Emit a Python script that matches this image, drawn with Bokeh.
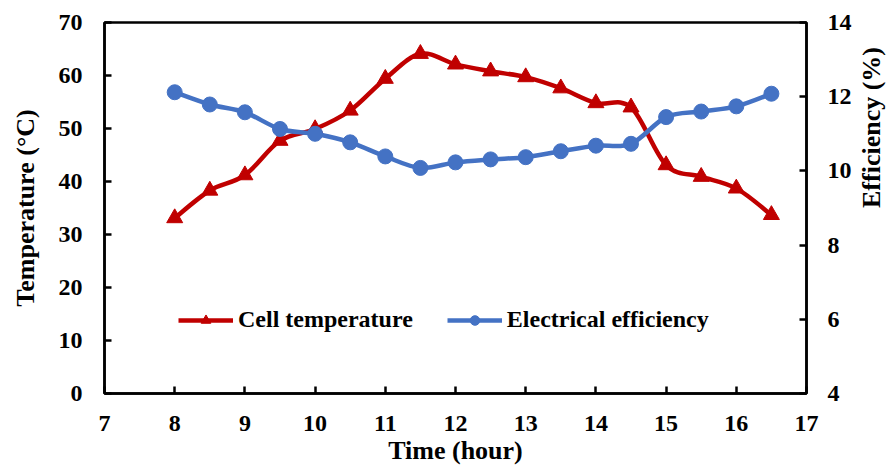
import numpy as np
from bokeh.plotting import figure
from bokeh.models import Range1d, LinearAxis, FixedTicker, Legend, LegendItem
from bokeh.embed import file_html
from bokeh.resources import INLINE

# ---- data ----
time_hour = [8, 8.5, 9, 9.5, 10, 10.5, 11, 11.5, 12, 12.5, 13, 13.5, 14, 14.5, 15, 15.5, 16, 16.5]
cell_temperature = [33.1, 38.3, 41.2, 47.7, 49.9, 53.4, 59.4, 64.1, 62.1, 60.8, 59.7, 57.6, 54.8, 54.0, 43.1, 40.9, 38.7, 33.7]
electrical_efficiency = [12.12, 11.79, 11.58, 11.13, 11.0, 10.77, 10.39, 10.08, 10.23, 10.31, 10.37, 10.53, 10.68, 10.73, 11.45, 11.60, 11.74, 12.08]

x_ticks = [7, 8, 9, 10, 11, 12, 13, 14, 15, 16, 17]
temp_ticks = [0, 10, 20, 30, 40, 50, 60, 70]
eff_ticks = [4, 6, 8, 10, 12, 14]

x_title = "Time (hour)"
left_title = "Temperature (°C)"
right_title = "Efficiency (%)"

RED = "#C00000"
BLUE = "#4472C4"
FONT = "Liberation Serif"


def smooth_segments(xs, ys):
    x = np.asarray(xs, float)
    y = np.asarray(ys, float)
    n = len(x)
    xp = np.concatenate([[x[0]], x, [x[-1]]])
    yp = np.concatenate([[y[0]], y, [y[-1]]])
    x0, y0, x1, y1 = x[:-1], y[:-1], x[1:], y[1:]
    cx0 = x0 + (xp[2:n + 1] - xp[0:n - 1]) / 6.0
    cy0 = y0 + (yp[2:n + 1] - yp[0:n - 1]) / 6.0
    cx1 = x1 - (xp[3:n + 2] - xp[1:n]) / 6.0
    cy1 = y1 - (yp[3:n + 2] - yp[1:n]) / 6.0
    return dict(x0=x0, y0=y0, x1=x1, y1=y1, cx0=cx0, cy0=cy0, cx1=cx1, cy1=cy1)


p = figure(
    frame_width=702, frame_height=371,
    x_range=Range1d(7, 17), y_range=Range1d(0, 70),
    output_backend="svg", toolbar_location=None,
    min_border_left=104, min_border_top=22, min_border_right=81, min_border_bottom=80,
)
p.extra_y_ranges = {"eff": Range1d(4, 14)}

p.xgrid.visible = False
p.ygrid.visible = False
p.outline_line_color = "black"
p.outline_line_width = 2.5
p.background_fill_color = "white"
p.border_fill_color = "white"

# temperature series
st = smooth_segments(time_hour, cell_temperature)
r_t_line = p.bezier(line_color=RED, line_width=4.5, source=st, **{k: k for k in st})
r_t_pts = p.scatter(time_hour, cell_temperature, marker="triangle", size=16, color=RED)

# efficiency series
se = smooth_segments(time_hour, electrical_efficiency)
r_e_line = p.bezier(line_color=BLUE, line_width=4.5, source=se, y_range_name="eff", **{k: k for k in se})
r_e_pts = p.scatter(time_hour, electrical_efficiency, marker="circle", size=15, color=BLUE, y_range_name="eff")


def style_axis(ax):
    ax.axis_line_color = "black"
    ax.axis_line_width = 2.5
    ax.major_tick_line_color = "black"
    ax.major_tick_line_width = 2.5
    ax.major_tick_in = 7
    ax.major_tick_out = 0
    ax.minor_tick_line_color = None
    ax.major_label_text_font = FONT
    ax.major_label_text_font_style = "bold"
    ax.major_label_text_font_size = "24px"
    ax.major_label_text_color = "black"
    ax.axis_label_text_font = FONT
    ax.axis_label_text_font_style = "bold"
    ax.axis_label_text_font_size = "26px"
    ax.axis_label_text_color = "black"


# x axis
xa = p.xaxis[0]
style_axis(xa)
xa.ticker = FixedTicker(ticks=x_ticks)
xa.axis_label = x_title
xa.major_label_standoff = 22
xa.axis_label_standoff = 2

# left axis
ya = p.yaxis[0]
style_axis(ya)
ya.ticker = FixedTicker(ticks=temp_ticks)
ya.axis_label = left_title
ya.major_label_standoff = 22
ya.axis_label_standoff = 16

# right axis
ra = LinearAxis(y_range_name="eff")
style_axis(ra)
ra.ticker = FixedTicker(ticks=eff_ticks)
ra.axis_label = right_title
ra.axis_label_orientation = np.pi / 2
ra.axis_label_text_align = "right"
ra.major_label_standoff = 21
ra.axis_label_standoff = 17
p.add_layout(ra, "right")

legend = Legend(
    items=[
        LegendItem(label="Cell temperature", renderers=[r_t_line, r_t_pts]),
        LegendItem(label="Electrical efficiency", renderers=[r_e_line, r_e_pts]),
    ],
    location=(74, 60),
    orientation="horizontal",
    glyph_width=55, glyph_height=24,
    label_standoff=5, spacing=34, padding=0, margin=0,
    label_text_font=FONT, label_text_font_style="bold", label_text_font_size="24px",
    label_text_color="black",
    border_line_alpha=0, background_fill_alpha=0,
)
p.add_layout(legend, "center")

open("out.html", "w").write(file_html(p, INLINE))
